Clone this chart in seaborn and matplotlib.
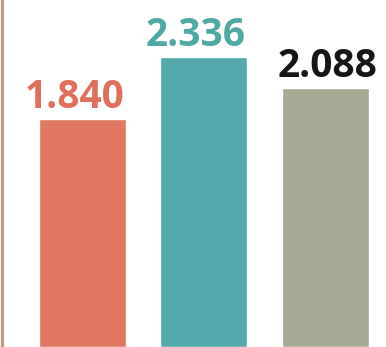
import matplotlib
matplotlib.use("Agg")
import matplotlib.pyplot as plt
from matplotlib.lines import Line2D
import seaborn as sns
import pandas as pd

categories = ["A", "B", "C"]
values = [1.840, 2.336, 2.088]
labels = ["1.840", "2.336", "2.088"]
bar_colors = ["#e07862", "#52a8aa", "#a6aa94"]
label_colors = ["#e0705e", "#4fa9a3", "#161616"]

sns.set_theme(style="white")
plt.rcParams["font.family"] = ["Open Sans", "DejaVu Sans"]

df = pd.DataFrame({"cat": categories, "val": values})

fig = plt.figure(figsize=(3.86, 3.47), dpi=100)
ax = fig.add_axes([0, 0, 1, 1])
sns.barplot(data=df, x="cat", y="val", hue="cat", palette=bar_colors,
            width=0.716, saturation=1, legend=False, ax=ax)

x_shift = [-5, -6, 2]
for i, (v, t, c) in enumerate(zip(values, labels, label_colors)):
    ax.annotate(t, (i, v), xytext=(x_shift[i], 8), textcoords="offset points",
                ha="center", va="baseline", fontsize=28, fontweight="bold",
                color=c)

ax.set_xlim(-0.675, 2.502)
ax.set_ylim(0, 2.798)
ax.set_axis_off()

fig.add_artist(Line2D([1.5 / 386, 1.5 / 386], [0, 1], transform=fig.transFigure,
                      lw=2.2, color="#c99483"))

fig.savefig("out.png", dpi=100, facecolor="white")
